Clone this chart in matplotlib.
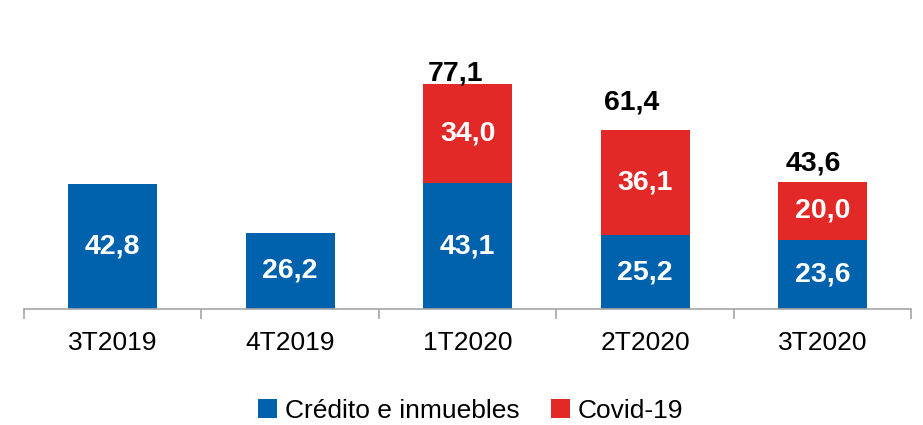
import matplotlib.pyplot as plt
import numpy as np

plt.rcParams['font.family'] = ['Liberation Sans', 'DejaVu Sans']

# data
quarters = ['3T2019', '4T2019', '1T2020', '2T2020', '3T2020']
credito = [42.8, 26.2, 43.1, 25.2, 23.6]
covid = [0.0, 0.0, 34.0, 36.1, 20.0]
totals = [None, None, 77.1, 61.4, 43.6]

BLUE = '#0062AD'
RED = '#E32828'
AXIS_GRAY = '#A6A6A6'


def fmt(v):
    return f'{v:.1f}'.replace('.', ',')


fig = plt.figure(figsize=(9.23, 4.25), dpi=100)
ax = fig.add_axes([0.026, 0.273, 0.9615, 0.70])

x = np.arange(len(quarters))
width = 0.5

b1 = ax.bar(x, credito, width, color=BLUE, label='Crédito e inmuebles')
b2 = ax.bar(x, covid, width, bottom=credito, color=RED, label='Covid-19')

# segment labels
for xi, c, v in zip(x, credito, covid):
    ax.text(xi, c / 2, fmt(c), ha='center', va='center', color='white',
            fontsize=20.5, fontweight='bold')
    if v > 0:
        ax.text(xi, c + v / 2, fmt(v), ha='center', va='center', color='white',
                fontsize=20.5, fontweight='bold')

# totals above stacked bars
offsets = {2: (-9, -1.5), 3: (-10, 10.5), 4: (-7, 4)}
for i, t in enumerate(totals):
    if t is None:
        continue
    dx, dy = offsets[i]
    ax.annotate(fmt(t), (x[i], credito[i] + covid[i]), xytext=(dx, dy),
                textcoords='offset points', ha='center', va='bottom',
                fontsize=20.5, fontweight='bold', color='black')

ax.set_xlim(-0.5, len(quarters) - 0.5)
ax.set_ylim(0, 102)

for s in ['top', 'right', 'left']:
    ax.spines[s].set_visible(False)
ax.spines['bottom'].set_color(AXIS_GRAY)
ax.spines['bottom'].set_linewidth(1.2)
ax.set_yticks([])

# category labels between boundary ticks
ax.set_xticks(x)
ax.set_xticklabels(quarters, fontsize=19)
ax.tick_params(axis='x', which='major', length=0, pad=16)
ax.set_xticks(np.arange(len(quarters) + 1) - 0.5, minor=True)
ax.tick_params(axis='x', which='minor', length=7, color=AXIS_GRAY, width=1.2)

fig.legend(handles=[b1, b2], loc='lower center', bbox_to_anchor=(0.51, -0.05),
           ncol=2, frameon=False, fontsize=19, handlelength=0.7,
           handleheight=0.7, handletextpad=0.3, columnspacing=1.2)

fig.savefig('out.png', dpi=100, facecolor='white')
